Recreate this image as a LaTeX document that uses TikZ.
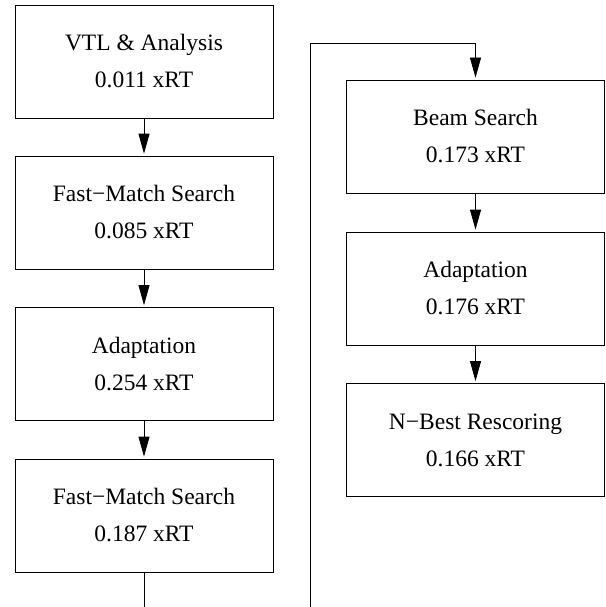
\documentclass[tikz,border=0pt]{standalone}
\usepackage{fontspec}
\setmainfont{Liberation Serif}
\usetikzlibrary{arrows.meta}
\begin{document}
\begin{tikzpicture}[x=1pt, y=-1pt, line width=0.8pt]
  \useasboundingbox (0,0) rectangle (605,607);

  \tikzstyle{stage}=[rectangle, draw, minimum width=258pt, minimum height=113pt,
    inner sep=0pt, align=center, font=\fontsize{23.5}{37}\selectfont]
  \tikzstyle{flow}=[-{Triangle[length=20pt, width=11pt]}, shorten >=2pt]

  % linke Spalte
  \node[stage] (vtl) at (144,61.5) {VTL \& Analysis\\0.011 xRT};
  \node[stage] (fm1) at (144,212.5) {Fast−Match Search\\0.085 xRT};
  \node[stage] (ad1) at (144,364) {Adaptation\\0.254 xRT};
  \node[stage] (fm2) at (144,515.5) {Fast−Match Search\\0.187 xRT};

  % rechte Spalte
  \node[stage] (beam) at (475.5,136.5) {Beam Search\\0.173 xRT};
  \node[stage] (ad2) at (475.5,288.5) {Adaptation\\0.176 xRT};
  \node[stage] (nbest) at (475.5,440) {N−Best Rescoring\\0.166 xRT};

  \path[flow] (vtl) edge (fm1);
  \path[flow] (fm1) edge (ad1);
  \path[flow] (ad1) edge (fm2);
  \path[flow] (beam) edge (ad2);
  \path[flow] (ad2) edge (nbest);

  % Uebergang zwischen den Spalten
  \coordinate (out) at (144,607);
  \coordinate (in) at (310,607);
  \coordinate (top) at (310,43);
  \draw (fm2) -- (out);
  \draw[flow] (in) -- (top) -| (beam);
\end{tikzpicture}
\end{document}
